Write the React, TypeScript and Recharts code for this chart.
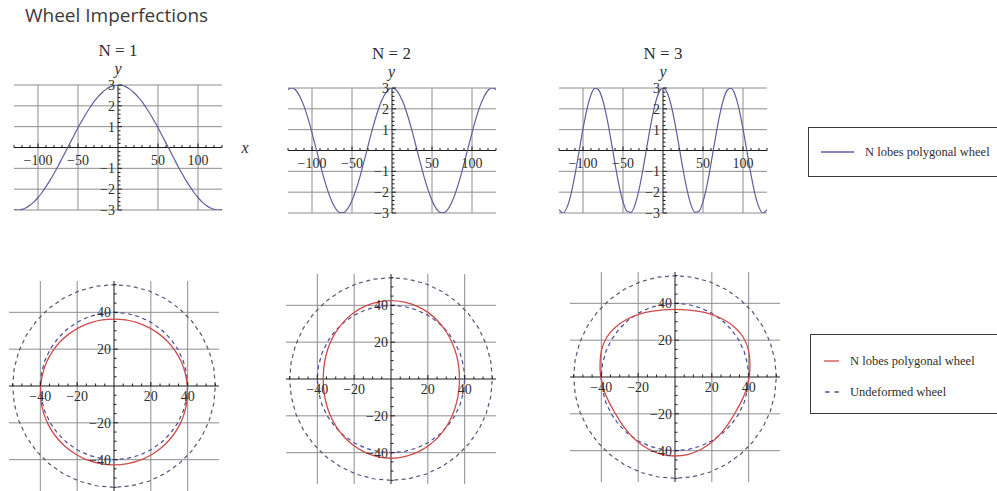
import React from "react";
import { LineChart, Line, XAxis, YAxis, ReferenceLine, ReferenceDot } from "recharts";

// profile samples along the rolling distance x, radial deviation y
const WAVE_X = [
  -130, -125, -120, -115, -110, -105, -100, -95, -90, -85, -80, -75, -70, -65, -60, -55, -50, -45, -40, -35, -30, -25,
  -20, -15, -10, -5, 0, 5, 10, 15, 20, 25, 30, 35, 40, 45, 50, 55, 60, 65, 70, 75, 80, 85, 90, 95, 100, 105, 110, 115,
  120, 125, 130,
];
const WAVE_N1 = [
  -2.98, -3.0, -2.97, -2.89, -2.77, -2.61, -2.4, -2.16, -1.88, -1.58, -1.25, -0.9, -0.53, -0.16, 0.21, 0.58, 0.95, 1.29,
  1.62, 1.92, 2.2, 2.43, 2.63, 2.79, 2.91, 2.98, 3.0, 2.98, 2.91, 2.79, 2.63, 2.43, 2.2, 1.92, 1.62, 1.29, 0.95, 0.58,
  0.21, -0.16, -0.53, -0.9, -1.25, -1.58, -1.88, -2.16, -2.4, -2.61, -2.77, -2.89, -2.97, -3.0, -2.98,
];
const WAVE_N2 = [
  2.93, 3.0, 2.88, 2.58, 2.13, 1.54, 0.85, 0.11, -0.63, -1.34, -1.96, -2.46, -2.81, -2.98, -2.97, -2.77, -2.4, -1.88,
  -1.25, -0.53, 0.21, 0.95, 1.62, 2.2, 2.63, 2.91, 3.0, 2.91, 2.63, 2.2, 1.62, 0.95, 0.21, -0.53, -1.25, -1.88, -2.4,
  -2.77, -2.97, -2.98, -2.81, -2.46, -1.96, -1.34, -0.63, 0.11, 0.85, 1.54, 2.13, 2.58, 2.88, 3.0, 2.93,
];
const WAVE_N3 = [
  -2.84, -3.0, -2.73, -2.09, -1.16, -0.06, 1.04, 2.0, 2.68, 2.99, 2.88, 2.37, 1.54, 0.49, -0.63, -1.67, -2.46, -2.92,
  -2.97, -2.61, -1.88, -0.9, 0.21, 1.29, 2.2, 2.79, 3.0, 2.79, 2.2, 1.29, 0.21, -0.9, -1.88, -2.61, -2.97, -2.92, -2.46,
  -1.67, -0.63, 0.49, 1.54, 2.37, 2.88, 2.99, 2.68, 2.0, 1.04, -0.06, -1.16, -2.09, -2.73, -3.0, -2.84,
];
const WAVE_X_TICKS = [-100, -50, 50, 100];
const WAVE_Y_TICKS = [-3, -2, -1, 1, 2, 3];

// wheel contour: radius (mm) per polar angle (deg)
const WHEEL_ANGLES = [
  0, 10, 20, 30, 40, 50, 60, 70, 80, 90, 100, 110, 120, 130, 140, 150, 160, 170, 180, 190, 200, 210, 220, 230, 240, 250,
  260, 270, 280, 290, 300, 310, 320, 330, 340, 350,
];
const WHEEL_N1 = [
  40.0, 39.5, 39.0, 38.5, 38.0, 37.5, 37.1, 36.8, 36.6, 36.5, 36.6, 36.8, 37.1, 37.5, 38.0, 38.5, 39.0, 39.5, 40.0, 40.6,
  41.1, 41.6, 42.0, 42.4, 42.7, 42.9, 43.0, 43.0, 43.0, 42.9, 42.7, 42.4, 42.0, 41.6, 41.1, 40.6,
];
const WHEEL_N2 = [
  37.3, 37.5, 38.0, 38.7, 39.6, 40.6, 41.5, 42.2, 42.6, 42.8, 42.6, 42.2, 41.5, 40.5, 39.5, 38.5, 37.7, 37.1, 36.9, 37.1,
  37.7, 38.5, 39.5, 40.6, 41.6, 42.5, 43.1, 43.3, 43.1, 42.5, 41.7, 40.8, 39.8, 38.8, 38.0, 37.5,
];
const WHEEL_N3 = [
  40.5, 41.5, 42.8, 43.3, 42.5, 41.0, 39.5, 38.0, 37.1, 36.8, 37.1, 38.0, 39.5, 41.0, 42.5, 43.3, 42.8, 41.5, 40.5, 39.5,
  38.5, 38.0, 38.5, 39.5, 40.8, 42.0, 42.9, 43.2, 42.9, 42.0, 40.8, 39.5, 38.5, 38.0, 38.5, 39.5,
];
const UNDEFORMED_R = 40;
const OUTER_R = 55;
const WHEEL_TICKS = [-40, -20, 20, 40];

const SERIF = '"Liberation Serif", "Times New Roman", serif';
const INK = "#2e2e2e";
const AXIS = "#1a1a1a";
const GRID = "#8c8c8c";
const WAVE_COLOR = "#5d5f9e";
const RED = "#cc4b4b";
const DASH_BLUE = "#4a4c98";
const DASH_GRAY = "#55577a";
const TICK_FONT = 14;

const WAVE_W = 208;
const WAVE_H = 125;
const WHEEL_S = 210;

function range(from: number, to: number, step: number) {
  const out: number[] = [];
  for (let v = from; v <= to + 1e-9; v += step) out.push(Math.round(v * 100) / 100);
  return out;
}

function fmt(v: number) {
  return v < 0 ? "\u2212" + Math.abs(v) : String(v);
}

function polar(radii: number[]) {
  return WHEEL_ANGLES.map((a, i) => {
    const t = (a * Math.PI) / 180;
    return { x: radii[i] * Math.cos(t), y: radii[i] * Math.sin(t) };
  });
}

// tick mark on the horizontal axis, pointing up, with optional label below
const xTick = (len: number, label?: string, dy = 16) => (p: any) => (
  <g>
    <line x1={p.cx} y1={p.cy} x2={p.cx} y2={p.cy - len} stroke={AXIS} strokeWidth={1} />
    {label && (
      <text x={p.cx} y={p.cy + dy} textAnchor="middle" fontFamily={SERIF} fontSize={TICK_FONT} fill={INK}>
        {label}
      </text>
    )}
  </g>
);

// tick mark on the vertical axis, pointing right, with optional label on the left
const yTick = (len: number, label?: string) => (p: any) => (
  <g>
    <line x1={p.cx} y1={p.cy} x2={p.cx + len} y2={p.cy} stroke={AXIS} strokeWidth={1} />
    {label && (
      <text x={p.cx - 3} y={p.cy + 5} textAnchor="end" fontFamily={SERIF} fontSize={TICK_FONT} fill={INK}>
        {label}
      </text>
    )}
  </g>
);

function Label({ x, y, children, italic, size = 17 }: any) {
  return (
    <div
      style={{
        position: "absolute",
        left: x - 40,
        top: y - 10,
        width: 80,
        height: 20,
        lineHeight: "20px",
        textAlign: "center",
        fontFamily: SERIF,
        fontSize: size,
        fontStyle: italic ? "italic" : "normal",
        color: INK,
      }}
    >
      {children}
    </div>
  );
}

function WaveChart({ left, top, title, values, showX }: any) {
  const data = WAVE_X.map((x, i) => ({ x, y: values[i] }));
  const m = { top: 10, right: 10, bottom: 10, left: 10 };
  const cx = left + WAVE_W / 2;
  const minorX = range(-130, 130, 10).filter((v) => v % 50 !== 0);
  const minorY = range(-3, 3, 0.2).filter((v) => Math.abs(v - Math.round(v)) > 0.01);
  return (
    <>
      <Label x={cx} y={top - 34}>{title}</Label>
      <Label x={cx} y={top - 16} italic size={16}>y</Label>
      {showX && (
        <Label x={left + WAVE_W + 23} y={top + WAVE_H / 2} italic size={16}>x</Label>
      )}
      <div style={{ position: "absolute", left: left - m.left, top: top - m.top }}>
        <LineChart width={WAVE_W + m.left + m.right} height={WAVE_H + m.top + m.bottom} data={data} margin={m}>
          <XAxis type="number" dataKey="x" domain={[-130, 130]} hide allowDataOverflow />
          <YAxis type="number" domain={[-3, 3]} hide allowDataOverflow />
          {WAVE_X_TICKS.map((v) => (
            <ReferenceLine key={"gx" + v} x={v} stroke={GRID} strokeWidth={1} />
          ))}
          {WAVE_Y_TICKS.map((v) => (
            <ReferenceLine key={"gy" + v} y={v} stroke={GRID} strokeWidth={1} />
          ))}
          <ReferenceLine y={0} stroke={AXIS} strokeWidth={1} />
          <ReferenceLine x={0} stroke={AXIS} strokeWidth={1} />
          {minorX.map((v) => (
            <ReferenceDot key={"mx" + v} x={v} y={0} shape={xTick(2.5)} />
          ))}
          {minorY.map((v) => (
            <ReferenceDot key={"my" + v} x={0} y={v} shape={yTick(2.5)} />
          ))}
          {WAVE_X_TICKS.map((v) => (
            <ReferenceDot key={"tx" + v} x={v} y={0} shape={xTick(4, fmt(v), 17)} />
          ))}
          {WAVE_Y_TICKS.map((v) => (
            <ReferenceDot key={"ty" + v} x={0} y={v} shape={yTick(4, fmt(v))} />
          ))}
          <Line
            dataKey="y"
            type="monotone"
            stroke={WAVE_COLOR}
            strokeWidth={1.2}
            dot={false}
            isAnimationActive={false}
          />
        </LineChart>
      </div>
    </>
  );
}

function WheelChart({ left, top, radii }: any) {
  const m = { top: 10, right: 10, bottom: 10, left: 10 };
  const minor = range(-55, 55, 5).filter((v) => v % 20 !== 0);
  const outer = polar(WHEEL_ANGLES.map(() => OUTER_R));
  const undeformed = polar(WHEEL_ANGLES.map(() => UNDEFORMED_R));
  const contour = polar(radii);
  return (
    <div style={{ position: "absolute", left: left - m.left, top: top - m.top }}>
      <LineChart width={WHEEL_S + m.left + m.right} height={WHEEL_S + m.top + m.bottom} margin={m}>
        <XAxis type="number" dataKey="x" domain={[-57, 57]} hide allowDataOverflow />
        <YAxis type="number" dataKey="y" domain={[-57, 57]} hide allowDataOverflow />
        {WHEEL_TICKS.map((v) => (
          <ReferenceLine key={"gx" + v} x={v} stroke={GRID} strokeWidth={1} />
        ))}
        {WHEEL_TICKS.map((v) => (
          <ReferenceLine key={"gy" + v} y={v} stroke={GRID} strokeWidth={1} />
        ))}
        <ReferenceLine y={0} stroke={AXIS} strokeWidth={1} />
        <ReferenceLine x={0} stroke={AXIS} strokeWidth={1} />
        {minor.map((v) => (
          <ReferenceDot key={"mx" + v} x={v} y={0} shape={xTick(2.5)} />
        ))}
        {minor.map((v) => (
          <ReferenceDot key={"my" + v} x={0} y={v} shape={yTick(2.5)} />
        ))}
        {WHEEL_TICKS.map((v) => (
          <ReferenceDot key={"tx" + v} x={v} y={0} shape={xTick(4, fmt(v), 15)} />
        ))}
        {WHEEL_TICKS.map((v) => (
          <ReferenceDot key={"ty" + v} x={0} y={v} shape={yTick(4, fmt(v))} />
        ))}
        <Line
          data={outer}
          dataKey="y"
          type="linearClosed"
          stroke={DASH_GRAY}
          strokeWidth={1.2}
          strokeDasharray="4 3.5"
          dot={false}
          isAnimationActive={false}
        />
        <Line
          data={undeformed}
          dataKey="y"
          type="linearClosed"
          stroke={DASH_BLUE}
          strokeWidth={1.2}
          strokeDasharray="4 3.5"
          dot={false}
          isAnimationActive={false}
        />
        <Line
          data={contour}
          dataKey="y"
          type="basisClosed"
          stroke={RED}
          strokeWidth={1.3}
          dot={false}
          isAnimationActive={false}
        />
      </LineChart>
    </div>
  );
}

function LegendBox({ left, top, height, children }: any) {
  return (
    <div
      style={{
        position: "absolute",
        left,
        top,
        width: 220,
        height,
        boxSizing: "border-box",
        border: "1.5px solid #3a3a3a",
        background: "#fff",
      }}
    >
      {children}
    </div>
  );
}

const legendText: React.CSSProperties = {
  position: "absolute",
  lineHeight: "20px",
  fontFamily: SERIF,
  fontSize: 12.5,
  color: INK,
  whiteSpace: "nowrap",
};

export default function App() {
  return (
    <div
      style={{
        position: "absolute",
        left: 0,
        top: 0,
        width: 997,
        height: 491,
        overflow: "hidden",
        background: "#fff",
      }}
    >
      <div
        style={{
          position: "absolute",
          left: 25,
          top: 2,
          lineHeight: "26px",
          fontFamily: '"Open Sans", sans-serif',
          fontSize: 19,
          color: "#3a3a3a",
        }}
      >
        Wheel Imperfections
      </div>

      <WaveChart left={14} top={85} title="N = 1" values={WAVE_N1} showX />
      <WaveChart left={287.5} top={87.5} title="N = 2" values={WAVE_N2} />
      <WaveChart left={559} top={87.5} title="N = 3" values={WAVE_N3} />

      <WheelChart left={8.7} top={281} radii={WHEEL_N1} />
      <WheelChart left={285.7} top={273.5} radii={WHEEL_N2} />
      <WheelChart left={570.3} top={272.3} radii={WHEEL_N3} />

      <LegendBox left={808} top={127} height={50}>
        <svg width={60} height={50} style={{ position: "absolute", left: 0, top: 0 }}>
          <line x1={12} y1={24} x2={45} y2={24} stroke={WAVE_COLOR} strokeWidth={1.3} />
        </svg>
        <span style={{ ...legendText, left: 56, top: 14 }}>N lobes polygonal wheel</span>
      </LegendBox>

      <LegendBox left={810} top={334} height={80}>
        <svg width={40} height={80} style={{ position: "absolute", left: 0, top: 0 }}>
          <line x1={13} y1={26} x2={28} y2={26} stroke={RED} strokeWidth={1.3} />
          <line x1={14} y1={57} x2={29} y2={57} stroke={DASH_BLUE} strokeWidth={1.3} strokeDasharray="4.5 5" />
        </svg>
        <span style={{ ...legendText, left: 39, top: 16 }}>N lobes polygonal wheel</span>
        <span style={{ ...legendText, left: 39, top: 47 }}>Undeformed wheel</span>
      </LegendBox>
    </div>
  );
}
